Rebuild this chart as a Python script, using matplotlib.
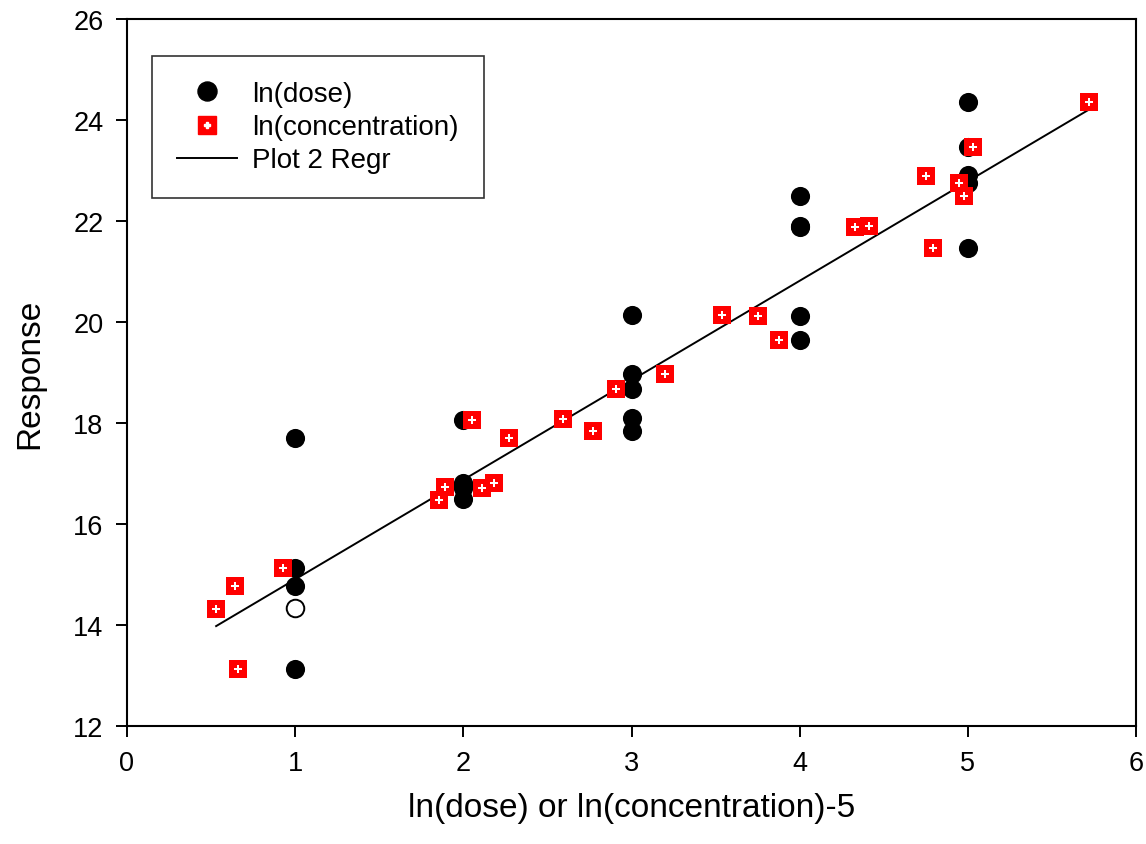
import numpy as np
import matplotlib
matplotlib.use("Agg")
import matplotlib.pyplot as plt
from matplotlib.lines import Line2D

plt.rcParams['font.family'] = ['Liberation Sans', 'DejaVu Sans']

# ln(dose) series (filled black circles)
dose_x = [1, 1, 1, 1,
          2, 2, 2, 2, 2,
          3, 3, 3, 3, 3,
          4, 4, 4, 4, 4,
          5, 5, 5, 5, 5]
dose_y = [17.70, 15.13, 14.77, 13.13,
          18.06, 16.82, 16.78, 16.71, 16.49,
          20.14, 18.97, 18.67, 18.10, 17.84,
          22.50, 21.90, 21.88, 20.12, 19.64,
          24.36, 23.47, 22.91, 22.75, 21.47]
# open (hollow) point of ln(dose)
dose_open_x = [1]
dose_open_y = [14.34]

# ln(concentration)-5 series (red squares)
conc_x = [0.53, 0.64, 0.66, 0.93, 1.855, 1.89, 2.05, 2.11, 2.18, 2.27,
          2.59, 2.77, 2.91, 3.20, 3.54, 3.75, 3.88, 4.33, 4.41, 4.75,
          4.79, 4.95, 4.98, 5.03, 5.72]
conc_y = [14.32, 14.77, 13.13, 15.13, 16.48, 16.73, 18.06, 16.71, 16.81, 17.70,
          18.08, 17.84, 18.67, 18.97, 20.14, 20.12, 19.64, 21.88, 21.90, 22.89,
          21.47, 22.75, 22.50, 23.47, 24.36]

x_ticks = [0, 1, 2, 3, 4, 5, 6]
y_ticks = [12, 14, 16, 18, 20, 22, 24, 26]

fig = plt.figure(figsize=(11.46, 8.45), dpi=100)
ax = fig.add_axes([127/1146, 1 - 727/845, (1136-127)/1146, (727-20)/845])

# regression line for plot 2
cx = np.array(conc_x); cy = np.array(conc_y)
slope, intercept = np.polyfit(cx, cy, 1)
lx = np.array([cx.min(), cx.max()])
ax.plot(lx, slope*lx + intercept, color='black', lw=1.4, zorder=2)

ax.scatter(dose_x, dose_y, s=190, c='black', marker='o', zorder=3, linewidths=0)
ax.scatter(dose_open_x, dose_open_y, s=160, facecolors='white', edgecolors='black',
           marker='o', linewidths=1.4, zorder=3)
ax.scatter(conc_x, conc_y, s=150, c='#ff0000', marker='s', zorder=4, linewidths=0)
ax.scatter(conc_x, conc_y, s=28, c='white', marker='P', zorder=5, linewidths=0)

ax.set_xlim(0, 6)
ax.set_ylim(12, 26)
ax.set_xticks(x_ticks)
ax.set_yticks(y_ticks)
ax.tick_params(direction='out', length=8, width=1.4, labelsize=19.5, pad=9,
               top=False, right=False)
for sp in ax.spines.values():
    sp.set_linewidth(1.5)

ax.set_xlabel('ln(dose) or ln(concentration)-5', fontsize=24, labelpad=12)
ax.set_ylabel('Response', fontsize=24, labelpad=20)

h1 = Line2D([], [], marker='o', color='black', ls='none', markersize=13.7)
h2 = (Line2D([], [], marker='s', color='#ff0000', ls='none', markersize=12.5),
      Line2D([], [], marker='P', color='white', ls='none', markersize=5))
h3 = Line2D([], [], color='black', lw=1.4)
leg = ax.legend([h1, h2, h3], ['ln(dose)', 'ln(concentration)', 'Plot 2 Regr'],
                loc='upper left', bbox_to_anchor=(25/1009, 1 - 37/707),
                fontsize=20, frameon=True, fancybox=False, edgecolor='black',
                borderpad=0.9, handlelength=2.15, labelspacing=0.26,
                handletextpad=0.55, borderaxespad=0)
leg.get_frame().set_linewidth(1.2)

fig.savefig('out.png', dpi=100)
